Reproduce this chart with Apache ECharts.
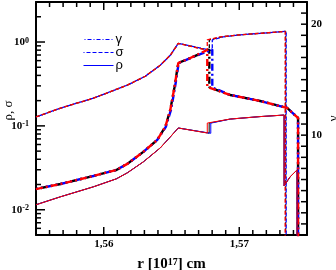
<!DOCTYPE html>
<html><head><meta charset="utf-8">
<script src="https://cdn.jsdelivr.net/npm/echarts@6/dist/echarts.min.js"></script>
<style>html,body{margin:0;padding:0;background:#fff}#c{width:336px;height:270px}</style>
</head><body><div id="c"></div>
<script>
// ---- axis ranges & tick values ----
const X_MIN = 1.555, X_MAX = 1.575;
const LOG_MIN = 0.005, LOG_MAX = 3;
const G_MIN = 1, G_MAX = 22;
const xMajorTicks = [1.56, 1.57];
const xMinorTicks = [1.555,1.556,1.557,1.558,1.559,1.561,1.562,1.563,1.564,1.565,1.566,1.567,1.568,1.569,1.571,1.572,1.573,1.574,1.575];
const logMajorTicks = [0.01, 0.1, 1];
const logMinorTicks = [0.005,0.006,0.007,0.008,0.009,0.02,0.03,0.04,0.05,0.06,0.07,0.08,0.09,0.2,0.3,0.4,0.5,0.6,0.7,0.8,0.9,2,3];
const gammaTicks = [2,3,4,5,6,7,8,9,10,11,12,13,14,15,16,17,18,19,20,21];
const gammaLabels = [10, 20];

// ---- data: [r (1e17 cm), value] ----
const sigmaBlack = [[1.5550,0.128],[1.55681,0.163],[1.55924,0.214],[1.56174,0.306],[1.56307,0.391],[1.56417,0.529],[1.56491,0.695],[1.56550,0.965],[1.56779,0.793],[1.56779,1.060],[1.56870,1.153],[1.57007,1.218],[1.57154,1.269],[1.57342,1.340],[1.57342,0.001]];
const sigmaBlue  = [[1.5550,0.128],[1.55681,0.163],[1.55924,0.214],[1.56174,0.306],[1.56307,0.391],[1.56417,0.529],[1.56491,0.695],[1.56550,0.965],[1.56801,0.790],[1.56801,1.058],[1.56880,1.150],[1.57007,1.218],[1.57154,1.269],[1.57346,1.340],[1.57346,0.001]];
const sigmaRed   = [[1.5550,0.128],[1.55681,0.163],[1.55924,0.214],[1.56174,0.306],[1.56307,0.391],[1.56417,0.529],[1.56491,0.695],[1.56550,0.965],[1.56764,0.797],[1.56764,1.062],[1.56860,1.153],[1.57007,1.218],[1.57154,1.269],[1.57339,1.340],[1.57339,0.001]];

const gammaBlack = [[1.5550,5.14],[1.55681,5.60],[1.55924,6.32],[1.56093,6.86],[1.56174,7.41],[1.56292,8.49],[1.56395,9.57],[1.56454,10.74],[1.56491,12.27],[1.56521,14.25],[1.56550,16.50],[1.56639,16.95],[1.56779,17.70],[1.56779,14.32],[1.56933,13.62],[1.57154,13.08],[1.57353,12.45],[1.57434,11.55],[1.57434,0]];
const gammaBlue  = [[1.5550,5.14],[1.55681,5.60],[1.55924,6.32],[1.56093,6.86],[1.56174,7.41],[1.56292,8.49],[1.56395,9.57],[1.56458,10.74],[1.56496,12.27],[1.56525,14.25],[1.56553,16.50],[1.56639,16.95],[1.56801,17.72],[1.56801,14.30],[1.56933,13.62],[1.57154,13.08],[1.57353,12.45],[1.57434,11.55],[1.57434,0]];
const gammaRed   = [[1.5550,5.14],[1.55681,5.60],[1.55924,6.32],[1.56093,6.86],[1.56174,7.41],[1.56292,8.49],[1.56395,9.57],[1.56454,10.74],[1.56491,12.27],[1.56521,14.25],[1.56550,16.50],[1.56639,16.95],[1.56764,17.68],[1.56764,14.34],[1.56933,13.62],[1.57154,13.08],[1.57353,12.45],[1.57434,11.55],[1.57434,0]];

const rhoBlack = [[1.5550,0.01150],[1.55681,0.01430],[1.55924,0.01880],[1.56093,0.02340],[1.56174,0.02760],[1.56292,0.03730],[1.56417,0.05470],[1.56491,0.07390],[1.56550,0.09450],[1.56778,0.08180],[1.56778,0.1079],[1.56933,0.1206],[1.57154,0.1291],[1.57331,0.1346],[1.57331,0.01928],[1.57375,0.02467],[1.57427,0.02988],[1.57427,0.0001]];
const rhoBlue  = [[1.5550,0.01147],[1.55681,0.01427],[1.55924,0.01876],[1.56093,0.02335],[1.56174,0.02752],[1.56292,0.03719],[1.56417,0.05454],[1.56491,0.07371],[1.56550,0.09428],[1.56790,0.08160],[1.56790,0.1078],[1.56933,0.1204],[1.57154,0.1290],[1.57331,0.1346],[1.57331,0.01928],[1.57375,0.02467],[1.57427,0.02988],[1.57427,0.0001]];
const rhoRed   = [[1.5550,0.01145],[1.55681,0.01427],[1.55924,0.01876],[1.56093,0.02335],[1.56174,0.02752],[1.56292,0.03719],[1.56417,0.05454],[1.56491,0.07371],[1.56550,0.09428],[1.56764,0.08222],[1.56764,0.1081],[1.56933,0.1206],[1.57154,0.1291],[1.57331,0.1346],[1.57331,0.01928],[1.57375,0.02467],[1.57427,0.02988],[1.57427,0.0001]];

const SERIF = 'Liberation Serif';
const BLACK = '#000000', BLUE = '#0000ff', RED = '#ff0000';
const DASH_SIGMA = [4, 2];
const DASH_GAMMA = [7, 3, 2, 3];

function ln(name, data, color, yIdx, type, width, offset) {
  return {
    name: name, type: 'line', data: data, xAxisIndex: 0, yAxisIndex: yIdx,
    symbol: 'none', showSymbol: false, clip: true,
    lineStyle: { color: color, width: width, type: type, dashOffset: offset || 0 },
    itemStyle: { color: color }
  };
}
function axisLineStyle() { return { show: true, onZero: false, lineStyle: { color: '#000', width: 2 } }; }

const chart = echarts.init(document.getElementById('c'));
chart.setOption({
  animation: false,
  grid: { left: 36, right: 29, top: 2, bottom: 35, outerBoundsMode: 'none' },
  legend: {
    orient: 'vertical', left: 78, top: 28, itemWidth: 30, itemHeight: 12, itemGap: 0,
    itemStyle: { opacity: 0 },
    textStyle: { fontFamily: 'Liberation Sans', fontSize: 13, color: '#000', padding: [0, 0, 0, -3] },
    data: [
      { name: 'γ', itemStyle: { opacity: 0 }, lineStyle: { color: BLUE, width: 1, type: [4, 2, 1, 2] } },
      { name: 'σ', itemStyle: { opacity: 0 }, lineStyle: { color: BLUE, width: 1, type: [4, 2] } },
      { name: 'ρ', itemStyle: { opacity: 0 }, lineStyle: { color: BLUE, width: 1, type: 'solid' } }
    ]
  },
  xAxis: [
    {
      type: 'value', min: X_MIN, max: X_MAX, position: 'bottom', splitLine: { show: false },
      axisLine: axisLineStyle(), axisTick: { show: false },
      axisLabel: { show: true, customValues: xMajorTicks, formatter: v => v.toFixed(2).replace('.', ','),
        fontFamily: SERIF, fontWeight: 'bold', fontSize: 11, color: '#000', margin: 4 },
      name: '{t|r [10}{s|17}{t|] cm}', nameLocation: 'middle', nameGap: 22, nameMoveOverlap: false,
      nameTextStyle: { rich: {
        t: { fontFamily: SERIF, fontWeight: 'bold', fontSize: 15, color: '#000' },
        s: { fontFamily: SERIF, fontWeight: 'bold', fontSize: 10, color: '#000', verticalAlign: 'top' } } }
    },
    {
      type: 'value', min: X_MIN, max: X_MAX, position: 'top', splitLine: { show: false },
      axisLine: axisLineStyle(), axisTick: { show: false }, axisLabel: { show: false }
    }
  ],
  yAxis: [
    {
      type: 'log', logBase: 10, min: LOG_MIN, max: LOG_MAX, position: 'left', splitLine: { show: false },
      axisLine: axisLineStyle(), axisTick: { show: false },
      axisLabel: {
        show: true, customValues: logMajorTicks, margin: 7,
        formatter: v => '{b|10}{s|' + Math.round(Math.log10(v)) + '}',
        rich: {
          b: { fontFamily: SERIF, fontWeight: 'bold', fontSize: 11, color: '#000' },
          s: { fontFamily: SERIF, fontWeight: 'bold', fontSize: 8, color: '#000', verticalAlign: 'top' }
        }
      },
      name: 'ρ, σ', nameLocation: 'middle', nameGap: 21, nameRotate: 90, nameMoveOverlap: false,
      nameTextStyle: { fontFamily: SERIF, fontSize: 13, color: '#000', padding: [0, 0, 0, 16] }
    },
    {
      type: 'value', min: G_MIN, max: G_MAX, interval: 1, position: 'right', splitLine: { show: false },
      axisLine: axisLineStyle(), axisTick: { show: false },
      axisLabel: {
        show: true,
        formatter: v => (gammaLabels.indexOf(v) >= 0 ? String(v) : ''),
        fontFamily: SERIF, fontWeight: 'bold', fontSize: 11, color: '#000', margin: 4
      },
      name: 'γ', nameLocation: 'middle', nameGap: 20, nameRotate: 90, nameMoveOverlap: false,
      nameTextStyle: { fontFamily: SERIF, fontSize: 13, color: '#000' }
    }
  ],
  series: [
    ln('s-black', sigmaBlack, BLACK, 0, DASH_SIGMA, 1.3, 0),
    ln('σ', sigmaBlue, BLUE, 0, DASH_SIGMA, 1.3, 3),
    ln('s-red', sigmaRed, RED, 0, DASH_SIGMA, 1.3, 0),
    ln('g-black', gammaBlack, BLACK, 1, DASH_GAMMA, 2.4, 10),
    ln('γ', gammaBlue, BLUE, 1, DASH_GAMMA, 2.4, 5),
    ln('g-red', gammaRed, RED, 1, DASH_GAMMA, 2.4, 0),
    ln('r-black', rhoBlack, BLACK, 0, 'solid', 1, 0),
    ln('ρ', rhoBlue, BLUE, 0, 'solid', 1, 0),
    ln('r-red', rhoRed, RED, 0, 'solid', 1, 0)
  ]
});

// Inward tick marks, placed through the chart's own axis scales.
(function addTicks() {
  const px = v => chart.convertToPixel({ xAxisIndex: 0 }, v);
  const pyL = v => chart.convertToPixel({ yAxisIndex: 0 }, v);
  const pyR = v => chart.convertToPixel({ yAxisIndex: 1 }, v);
  const left = px(X_MIN), right = px(X_MAX), top = pyR(G_MAX), bottom = pyR(G_MIN);
  const els = [];
  const seg = (x1, y1, x2, y2) => els.push({ type: 'line', silent: true, z: 10,
    shape: { x1: x1, y1: y1, x2: x2, y2: y2 }, style: { stroke: '#000', lineWidth: 1.5 } });
  xMajorTicks.forEach(v => { const x = px(v); seg(x, bottom, x, bottom - 8); seg(x, top, x, top + 8); });
  xMinorTicks.forEach(v => { const x = px(v); seg(x, bottom, x, bottom - 5); seg(x, top, x, top + 5); });
  logMajorTicks.forEach(v => { const y = pyL(v); seg(left, y, left + 9, y); });
  logMinorTicks.forEach(v => { const y = pyL(v); seg(left, y, left + 5, y); });
  gammaTicks.forEach(v => { const y = pyR(v); seg(right, y, right - 6, y); });
  chart.setOption({ graphic: [{ type: 'group', silent: true, children: els }] });
})();
</script></body></html>
